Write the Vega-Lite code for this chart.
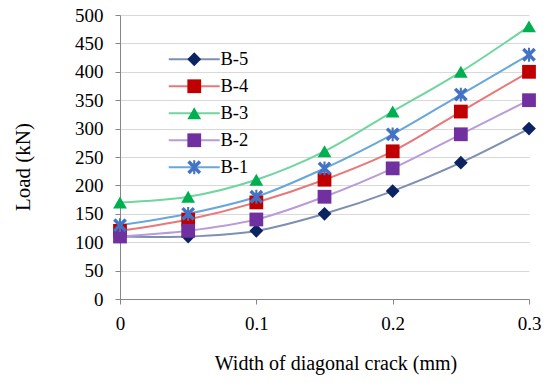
{
  "$schema": "https://vega.github.io/schema/vega-lite/v6.json",
  "width": 409,
  "height": 284,
  "autosize": {"type": "none"},
  "padding": {"left": 120, "top": 15, "right": 21, "bottom": 84},
  "background": "white",
  "config": {
    "font": "Liberation Serif",
    "view": {"stroke": null},
    "axis": {
      "labelFont": "Liberation Serif",
      "titleFont": "Liberation Serif",
      "labelFontSize": 19,
      "titleFontSize": 20,
      "titleFontWeight": "normal",
      "labelColor": "#000000",
      "titleColor": "#000000",
      "domainColor": "#868686",
      "tickColor": "#868686",
      "gridColor": "#d9d9d9",
      "tickSize": 5
    },
    "legend": {"labelFont": "Liberation Serif"}
  },
  "data": {
    "values": [
      {"series": "B-5", "w": 0, "load": 110},
      {"series": "B-5", "w": 0.05, "load": 110},
      {"series": "B-5", "w": 0.1, "load": 120},
      {"series": "B-5", "w": 0.15, "load": 150},
      {"series": "B-5", "w": 0.2, "load": 190},
      {"series": "B-5", "w": 0.25, "load": 240},
      {"series": "B-5", "w": 0.3, "load": 300},
      {"series": "B-4", "w": 0, "load": 120},
      {"series": "B-4", "w": 0.05, "load": 140},
      {"series": "B-4", "w": 0.1, "load": 170},
      {"series": "B-4", "w": 0.15, "load": 210},
      {"series": "B-4", "w": 0.2, "load": 260},
      {"series": "B-4", "w": 0.25, "load": 330},
      {"series": "B-4", "w": 0.3, "load": 400},
      {"series": "B-3", "w": 0, "load": 170},
      {"series": "B-3", "w": 0.05, "load": 180},
      {"series": "B-3", "w": 0.1, "load": 210},
      {"series": "B-3", "w": 0.15, "load": 260},
      {"series": "B-3", "w": 0.2, "load": 330},
      {"series": "B-3", "w": 0.25, "load": 400},
      {"series": "B-3", "w": 0.3, "load": 480},
      {"series": "B-2", "w": 0, "load": 110},
      {"series": "B-2", "w": 0.05, "load": 120},
      {"series": "B-2", "w": 0.1, "load": 140},
      {"series": "B-2", "w": 0.15, "load": 180},
      {"series": "B-2", "w": 0.2, "load": 230},
      {"series": "B-2", "w": 0.25, "load": 290},
      {"series": "B-2", "w": 0.3, "load": 350},
      {"series": "B-1", "w": 0, "load": 130},
      {"series": "B-1", "w": 0.05, "load": 150},
      {"series": "B-1", "w": 0.1, "load": 180},
      {"series": "B-1", "w": 0.15, "load": 230},
      {"series": "B-1", "w": 0.2, "load": 290},
      {"series": "B-1", "w": 0.25, "load": 360},
      {"series": "B-1", "w": 0.3, "load": 430}
    ]
  },
  "encoding": {
    "x": {
      "field": "w",
      "type": "quantitative",
      "scale": {"domain": [0, 0.3], "nice": false, "zero": false},
      "axis": {
        "title": "Width of diagonal crack (mm)",
        "values": [0, 0.1, 0.2, 0.3],
        "format": ".1~f",
        "grid": false,
        "labelFlush": false,
        "labelOverlap": false,
        "labelPadding": 10,
        "titlePadding": 20,
        "titleX": 215.5
      }
    },
    "y": {
      "field": "load",
      "type": "quantitative",
      "scale": {"domain": [0, 500], "nice": false},
      "axis": {
        "title": "Load (kN)",
        "values": [0, 50, 100, 150, 200, 250, 300, 350, 400, 450, 500],
        "grid": true,
        "labelPadding": 12,
        "titlePadding": 41,
        "titleFontSize": 21,
        "titleY": 151.5
      }
    }
  },
  "layer": [
    {
      "mark": {"type": "line", "interpolate": "catmull-rom", "strokeWidth": 2},
      "encoding": {
        "stroke": {
          "field": "series",
          "type": "nominal",
          "sort": null,
          "scale": {
            "range": ["#7d8fb2", "#e8787a", "#6fd69f", "#b99bd9", "#68a6dc"]
          },
          "legend": {
            "orient": "none",
            "legendX": 65,
            "legendY": 35,
            "title": null,
            "padding": 0,
            "symbolType": "M-3.7,0H3.7",
            "symbolSize": 190,
            "symbolStrokeWidth": 2,
            "labelFontSize": 18.5,
            "labelOpacity": 0,
            "labelOffset": 17,
            "rowPadding": 8
          }
        }
      }
    },
    {
      "mark": {"type": "point", "filled": true, "size": 190, "opacity": 1, "strokeWidth": 0},
      "encoding": {
        "fill": {
          "field": "series",
          "type": "nominal",
          "title": "s",
          "scale": {
            "domain": ["B-5", "B-4", "B-3", "B-2", "B-1"],
            "range": ["#0b2360", "#c00000", "#00b050", "#7030a0", "#4472c4"]
          },
          "legend": {
            "orient": "none",
            "legendX": 65,
            "legendY": 35,
            "title": null,
            "padding": 0,
            "symbolSize": 190,
            "symbolStrokeWidth": 0,
            "labelFontSize": 18.5,
            "labelColor": "#000000",
            "labelOffset": 17,
            "rowPadding": 8
          }
        },
        "shape": {
          "field": "series",
          "type": "nominal",
          "title": "s",
          "scale": {
            "domain": ["B-5", "B-4", "B-3", "B-2", "B-1"],
            "range": ["diamond", "square", "triangle-up", "square", "M-1,-0.65L-0.65,-1L0,-0.35L0.65,-1L1,-0.65L0.35,0L1,0.65L0.65,1L0,0.35L-0.65,1L-1,0.65L-0.35,0Z M-0.15,-1L0.15,-1L0.15,1L-0.15,1Z"]
          }
        }
      }
    }
  ]
}
